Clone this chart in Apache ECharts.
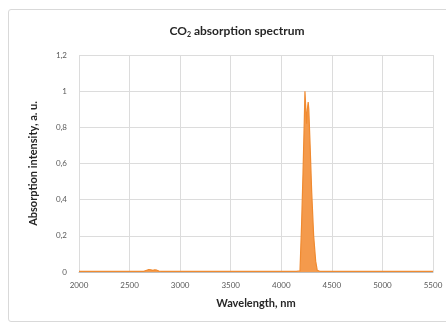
<!DOCTYPE html>
<html>
<head>
<meta charset="utf-8">
<script src="https://cdn.jsdelivr.net/npm/echarts@6/dist/echarts.min.js"></script>
<style>
  html, body { margin: 0; padding: 0; background: #fff; }
  #frame { position: absolute; left: 8px; top: 9px; width: 446px; height: 313px;
           border: 1px solid #d9d9d9; border-radius: 3px; box-sizing: border-box; }
  #chart { position: absolute; left: 0; top: 0; width: 446px; height: 326px; }
</style>
</head>
<body>
<div id="frame"></div>
<div id="chart"></div>
<script>
// CO2 absorption spectrum: wavelength (nm) vs. absorption intensity (a. u.)
const wavelength = [2000, 2500, 2640, 2670, 2690, 2710, 2730, 2750, 2770, 2790, 2820, 3000,
                    3500, 4000, 4150, 4185, 4200, 4215, 4228, 4234, 4240, 4250, 4258, 4266,
                    4272, 4285, 4300, 4320, 4340, 4355, 4380, 4500, 5000, 5500];
const intensity  = [0.003, 0.003, 0.004, 0.010, 0.014, 0.012, 0.009, 0.012, 0.010, 0.005, 0.003, 0.003,
                    0.003, 0.003, 0.003, 0.006, 0.25, 0.55, 0.85, 1.0, 0.93, 0.82, 0.9, 0.94,
                    0.9, 0.7, 0.45, 0.2, 0.06, 0.01, 0.004, 0.003, 0.003, 0.003];
const xTicks = [2000, 2500, 3000, 3500, 4000, 4500, 5000, 5500];
const yTicks = [0, 0.2, 0.4, 0.6, 0.8, 1, 1.2];

const font = 'Lato, "Open Sans", sans-serif';
const chart = echarts.init(document.getElementById('chart'), null, { renderer: 'canvas' });
chart.setOption({
  animation: false,
  backgroundColor: 'transparent',
  title: {
    text: 'CO{sub|2} absorption spectrum',
    left: 232, top: 20, textAlign: 'center',
    textStyle: {
      fontFamily: font, fontSize: 12, fontWeight: 'bold', color: '#262626',
      rich: { sub: { fontFamily: font, fontSize: 7, fontWeight: 'bold', color: '#262626', padding: [6, 0, 0, 0] } }
    }
  },
  grid: { left: 79, right: 13, top: 55, bottom: 54 },
  xAxis: {
    type: 'value', min: xTicks[0], max: xTicks[xTicks.length - 1], interval: 500,
    name: 'Wavelength, nm', nameLocation: 'middle', nameGap: 26,
    nameTextStyle: { fontFamily: font, fontSize: 11, fontWeight: 'bold', color: '#262626' },
    axisLine: { show: true, lineStyle: { color: '#bfbfbf' } },
    axisTick: { show: false },
    axisLabel: { fontFamily: font, fontSize: 8, color: '#595959', margin: 9,
                 formatter: v => String(Math.round(v)) },
    splitLine: { show: true, lineStyle: { color: '#dcdcdc', width: 1 } }
  },
  yAxis: {
    type: 'value', min: 0, max: 1.2, interval: 0.2,
    name: 'Absorption intensity, a. u.', nameLocation: 'middle', nameGap: 40,
    nameTextStyle: { fontFamily: font, fontSize: 11, fontWeight: 'bold', color: '#262626' },
    axisLine: { show: false },
    axisTick: { show: false },
    axisLabel: {
      fontFamily: font, fontSize: 8, color: '#595959', margin: 12,
      formatter: v => {
        const t = yTicks.find(k => Math.abs(k - v) < 1e-9);
        return String(t !== undefined ? t : v).replace('.', ',');
      }
    },
    splitLine: { show: true, lineStyle: { color: '#dcdcdc', width: 1 } }
  },
  series: [{
    type: 'line',
    data: wavelength.map((w, i) => [w, intensity[i]]),
    showSymbol: false,
    lineStyle: { color: '#f08a30', width: 1.2 },
    areaStyle: { color: '#f49a4c', opacity: 1 },
    z: 3
  }]
});
</script>
</body>
</html>
